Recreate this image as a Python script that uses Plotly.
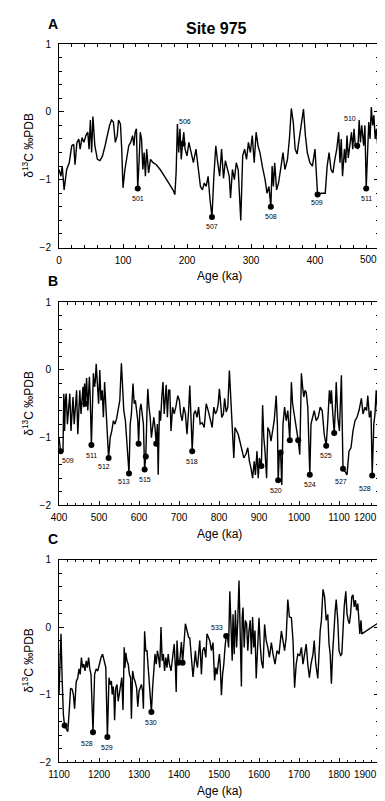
import plotly.graph_objects as go

# ---------------- data ----------------
age_A = [0, 3, 5, 8, 12, 16, 20, 23, 25, 28, 31, 33, 36, 39, 42, 45, 47, 49, 51, 53, 56, 60, 64, 68, 72, 76, 79, 82, 85, 88,
         91, 93, 96, 98, 100, 103, 106, 109, 112, 115, 117, 119, 121, 123, 125, 127, 129, 131, 133, 135, 137, 140, 143, 147,
         152, 158, 165, 172, 178, 181, 183, 185, 187, 189, 191, 193, 195, 197, 200, 203, 206, 210, 214, 218, 221, 224, 227,
         230, 233, 236, 239, 242, 245, 248, 251, 254, 257, 260, 263, 266, 268, 271, 274, 277, 280, 284, 287, 290, 293, 296,
         299, 302, 305, 308, 311, 314, 318, 322, 325, 328, 331, 333, 335, 337, 340, 343, 347, 350, 353, 357, 360, 363, 366,
         369, 372, 375, 378, 382, 385, 388, 392, 396, 400, 404, 410, 416, 419, 422, 425, 428, 431, 434, 437, 439, 441, 443,
         446, 448, 450, 452, 455, 457, 459, 461, 463, 466, 467, 469, 471, 473, 476, 478, 480, 482, 484, 486, 488, 490, 492,
         494, 496, 498, 500]
d13C_A = [-0.85, -0.95, -0.8, -1.15, -0.85, -0.75, -0.5, -0.48, -0.78, -0.45, -0.4, -0.55, -0.38, -0.45, -0.35, -0.3, -0.55,
          -0.12, -0.6, -0.07, -0.5, -0.7, -0.72, -0.65, -0.5, -0.3, -0.2, -0.12, -0.15, -0.45, -0.35, -0.12, -0.18, -0.55,
          -1.12, -0.85, -0.65, -0.5, -0.45, -0.35, -0.5, -0.3, -0.25, -1.13, -0.75, -0.3, -0.4, -0.85, -0.6, -0.95, -0.55,
          -0.9, -0.7, -0.75, -0.78, -0.85, -0.95, -1.05, -1.15, -1.22, -0.9, -0.18, -0.6, -0.25, -0.7, -0.47, -0.3, -0.55,
          -0.65, -0.45, -0.6, -0.75, -0.55, -0.9, -1.1, -1.15, -1.05, -1.1, -0.95, -1.3, -1.55, -0.95, -0.5, -0.75, -0.95,
          -0.55, -0.98, -0.72, -0.85, -0.95, -1.27, -0.85, -1.0, -0.75, -0.85, -1.6, -0.65, -0.55, -0.7, -0.45, -0.6, -0.35,
          -0.75, -0.3, -0.5, -0.6, -0.82, -1.0, -1.2, -1.1, -1.4, -0.8, -1.1, -0.75, -1.15, -1.05, -0.8, -0.6, -0.85, -0.7,
          -0.4, 0.05, -0.15, -0.55, -0.62, -0.4, -0.2, 0.04, -0.35, -0.6, -0.75, -0.8, -0.55, -1.22, -1.2, -1.2, -0.8, -0.6,
          -0.85, -0.9, -0.7, -0.55, -0.3, -0.75, -0.4, -0.95, -0.55, -0.75, -0.35, -0.68, -0.45, -0.3, -0.55, -0.25, -0.5,
          -0.5, -0.55, -0.12, -0.45, -0.2, -0.5, -0.2, -1.13, -0.45, -0.15, -0.4, 0.07, -0.2, -0.05, -0.4, -0.25, -0.5, -0.3]

age_B = [400, 404, 408, 410, 412, 414, 416, 418, 421, 424, 427, 430, 433, 435, 438, 441, 444, 447, 450, 452, 455, 458, 460,
         462, 464, 466, 469, 472, 474, 476, 478, 481, 484, 486, 489, 491, 493, 496, 499, 502, 505, 508, 511, 514, 517, 520,
         524, 528, 532, 536, 540, 544, 548, 552, 556, 559, 562, 566, 570, 575, 578, 581, 585, 588, 591, 594, 597, 599, 602,
         605, 608, 611, 614, 617, 620, 622, 625, 628, 631, 634, 637, 640, 643, 646, 648, 651, 654, 657, 660, 663, 666, 668,
         671, 674, 677, 680, 684, 688, 692, 697, 701, 704, 708, 712, 716, 720, 724, 727, 730, 733, 737, 741, 745, 749, 753,
         758, 763, 768, 773, 778, 783, 787, 791, 795, 798, 801, 804, 807, 811, 814, 818, 822, 826, 830, 834, 837, 840, 844,
         848, 852, 857, 862, 867, 872, 876, 880, 884, 888, 891, 895, 898, 901, 906, 909, 912, 915, 919, 922, 926, 930, 934,
         938, 943, 946, 948, 951, 954, 957, 960, 964, 968, 972, 977, 981, 984, 988, 992, 998, 1002, 1006, 1009, 1012, 1015,
         1018, 1022, 1027, 1030, 1034, 1038, 1043, 1048, 1053, 1058, 1063, 1068, 1072, 1076, 1079, 1081, 1084, 1088, 1091,
         1093, 1097, 1101, 1106, 1110, 1115, 1120, 1125, 1130, 1135, 1140, 1145, 1150, 1156, 1160, 1165, 1169, 1172, 1176,
         1180, 1183, 1187, 1190, 1193, 1197, 1200]
d13C_B = [-1.0, -1.2, -1.2, -1.2, -0.35, -0.9, -0.45, -0.35, -0.8, -0.5, -0.35, -0.9, -0.5, -0.4, -0.8, -0.6, -0.3, -0.95,
          -0.5, -0.3, -0.65, -0.45, -0.25, -0.55, -0.2, -0.5, -0.12, -0.6, -0.15, -0.1, -0.4, -1.11, -0.45, -0.05, -0.25,
          -0.15, 0.09, -0.3, -0.5, 0.0, -0.45, -0.3, -0.7, -0.18, -0.55, -0.75, -1.3, -1.0, -0.9, -0.75, -0.8, -0.72, -0.6,
          -0.45, 0.1, -0.3, -0.6, -0.75, -1.1, -1.53, -0.8, -0.65, -0.2, -0.5, -0.45, -0.6, -0.75, -1.09, -0.6, -0.5, -0.7,
          -0.8, -1.47, -1.28, -0.6, -0.28, -0.55, -0.7, -1.0, -0.8, -0.7, -0.85, -1.09, -0.8, -1.55, -0.6, -0.75, -0.4,
          -0.18, -0.65, -0.28, -0.22, -0.7, -0.3, -0.3, -0.9, -0.55, -0.65, -0.55, -0.38, -0.45, -0.65, -0.75, -0.55, -0.65,
          -0.95, -0.6, -0.23, -0.7, -1.2, -0.65, -0.6, -0.7, -0.55, -0.8, -0.78, -0.85, -0.5, -0.6, -0.75, -0.85, -0.55,
          -0.65, -0.6, -0.5, -0.28, -0.5, -0.7, -0.65, -0.42, -0.62, -0.55, -0.01, -0.55, -0.9, -1.3, -0.85, -0.9, -0.95,
          -1.05, -1.2, -1.3, -1.25, -1.15, -1.35, -1.45, -1.6, -1.35, -1.55, -1.2, -1.6, -1.3, -1.42, -0.52, -1.0, -1.2,
          -1.6, -0.85, -0.9, -1.05, -0.9, -0.75, -0.38, -0.8, -1.63, -1.2, -1.22, -1.7, -0.8, -0.55, -0.75, -0.6, -1.04,
          -0.18, -0.5, -0.65, -0.85, -1.04, -1.25, -0.05, -0.25, -0.4, -0.3, -0.33, -0.55, -1.55, -0.8, -0.7, -0.6, -0.75,
          -0.7, -0.55, -0.6, -0.95, -1.12, -0.75, -0.3, -0.5, -0.3, -0.6, -0.93, -0.55, -0.18, -0.7, -0.9, -0.08, -1.46,
          -1.5, -1.55, -1.2, -1.15, -0.9, -0.75, -0.7, -0.6, -0.42, -0.65, -0.55, -0.6, -0.38, -0.7, -0.6, -1.56, -0.8,
          -0.65, -0.3, -0.7, -0.65]

age_C = [1100, 1102, 1105, 1108, 1111, 1114, 1118, 1122, 1126, 1129, 1133, 1136, 1139, 1143, 1147, 1150, 1153, 1156, 1159,
         1162, 1165, 1168, 1171, 1174, 1177, 1180, 1185, 1189, 1193, 1197, 1201, 1205, 1209, 1213, 1217, 1221, 1225, 1228,
         1231, 1233, 1235, 1237, 1239, 1242, 1245, 1248, 1251, 1254, 1257, 1260, 1263, 1265, 1267, 1270, 1273, 1276, 1279,
         1281, 1284, 1287, 1290, 1294, 1297, 1300, 1303, 1306, 1309, 1311, 1314, 1317, 1320, 1323, 1326, 1329, 1331, 1334,
         1337, 1340, 1343, 1346, 1349, 1352, 1355, 1358, 1361, 1364, 1367, 1370, 1373, 1376, 1380, 1384, 1388, 1391, 1393,
         1395, 1398, 1402, 1406, 1409, 1413, 1416, 1420, 1424, 1427, 1431, 1435, 1438, 1441, 1443, 1446, 1449, 1452, 1456,
         1459, 1463, 1467, 1470, 1473, 1477, 1481, 1485, 1489, 1492, 1495, 1498, 1501, 1503, 1506, 1509, 1512, 1515, 1518,
         1521, 1524, 1527, 1530, 1533, 1535, 1538, 1541, 1544, 1547, 1550, 1553, 1556, 1558, 1560, 1563, 1566, 1569, 1572,
         1575, 1578, 1581, 1584, 1587, 1590, 1593, 1596, 1600, 1603, 1606, 1610, 1614, 1618, 1622, 1626, 1631, 1635, 1640,
         1645, 1650, 1656, 1660, 1664, 1668, 1672, 1676, 1681, 1685, 1689, 1693, 1697, 1702, 1706, 1710, 1714, 1718, 1722,
         1726, 1730, 1735, 1738, 1742, 1747, 1750, 1753, 1756, 1760, 1764, 1768, 1772, 1775, 1778, 1781, 1784, 1787, 1790,
         1793, 1797, 1800, 1804, 1807, 1810, 1813, 1817, 1820, 1823, 1826, 1829, 1832, 1835, 1838, 1841, 1844, 1847, 1850,
         1852, 1855, 1857, 1900]
d13C_C = [-1.0, -0.5, -0.1, -0.8, -1.3, -1.46, -1.5, -1.55, -1.2, -0.91, -0.92, -1.0, -1.21, -0.81, -0.75, -0.62, -0.7,
          -0.45, -0.6, -0.55, -0.65, -0.5, -0.6, -0.45, -0.62, -0.7, -1.56, -0.7, -0.62, -0.65, -0.55, -0.45, -0.4, -0.5,
          -0.6, -1.63, -0.75, -0.85, -0.8, -1.0, -0.88, -0.95, -1.38, -0.9, -0.85, -1.1, -1.0, -0.9, -0.75, -1.23, -0.3,
          -0.6, -0.38, -0.5, -0.55, -0.7, -0.75, -1.36, -0.65, -0.75, -0.8, -0.9, -1.18, -0.95, -0.9, -0.85, -0.95, -1.21,
          -0.06, -0.35, -0.35, -0.6, -0.8, -0.95, -1.26, -0.9, -0.6, -0.4, -0.55, -0.35, -0.45, -0.6, 0.0, -0.5, -0.4,
          -0.65, -0.45, -0.6, -0.4, -0.55, -0.65, -0.45, -0.25, -0.6, -0.96, -0.2, -0.53, -0.5, -0.22, -0.53, -0.1, 0.05,
          -0.05, -0.15, -0.16, -0.4, -0.74, -0.55, -0.35, -0.5, -0.6, -0.4, -0.2, -0.7, -0.35, -0.3, -0.45, -0.1, -0.15,
          -0.2, -0.35, -0.23, -0.79, -0.6, -0.7, -0.55, -0.4, -0.55, -1.01, -0.7, -0.55, -0.3, -0.13, -0.12, -0.3, 0.53,
          0.05, -0.5, 0.19, -0.4, 0.25, -0.3, 0.1, 0.69, -0.1, -0.88, 0.15, 0.29, -0.3, 0.1, 0.05, -0.35, -0.05, 0.1, -0.4,
          0.15, -0.3, -0.05, -0.76, -0.3, 0.14, -0.25, -0.5, -0.61, 0.04, -0.2, -0.3, -0.45, -0.23, -0.4, -0.55, -0.35,
          -0.4, -0.06, -0.2, -0.35, -0.15, 0.41, 0.15, 0.14, -0.2, -0.9, -0.55, -0.4, -0.42, -0.3, -0.55, -0.4, -0.25,
          -0.55, -0.75, -0.55, -0.4, -0.2, -0.55, -0.76, -0.3, -0.05, 0.1, 0.56, 0.45, 0.1, 0.19, -0.25, -0.4, -0.84, -0.4,
          0.0, 0.2, 0.41, 0.1, -0.35, -0.42, -0.4, 0.0, 0.3, 0.53, 0.2, 0.1, 0.05, 0.2, 0.45, 0.48, 0.3, 0.4, 0.25, 0.35,
          0.1, -0.1, 0.1, -0.1, 0.07]

# marked events (age, value, label)
mark_age_A = [123, 193, 239, 331, 404, 466, 480]
mark_val_A = [-1.13, -0.47, -1.55, -1.4, -1.22, -0.5, -1.13]
mark_lbl_A = ["501", "506", "507", "508", "509", "510", "511"]

mark_age_B = [404, 466, 481, 524, 575, 599, 614, 617, 643, 733, 906, 948, 954, 977, 998, 1027, 1068, 1088, 1110, 1183]
mark_val_B = [-1.2, -0.5, -1.11, -1.3, -1.53, -1.09, -1.47, -1.28, -1.09, -1.2, -1.42, -1.63, -1.22, -1.04, -1.04,
              -1.55, -1.12, -0.93, -1.46, -1.56]
mark_lbl_B = ["509", "", "511", "512", "513", "", "515", "", "", "518", "", "520", "", "", "", "524", "525", "", "527",
              "528"]

mark_age_C = [1114, 1185, 1221, 1331, 1398, 1409, 1518]
mark_val_C = [-1.46, -1.56, -1.63, -1.26, -0.53, -0.53, -0.13]
mark_lbl_C = ["", "528", "529", "530", "", "", "533"]

x_ticks = [[0, 100, 200, 300, 400, 500],
           [400, 500, 600, 700, 800, 900, 1000, 1100, 1200],
           [1100, 1200, 1300, 1400, 1500, 1600, 1700, 1800, 1900]]
y_ticks = [-2, -1, 0, 1]
panel_letters = ["A", "B", "C"]

# ---------------- styles / layout helpers ----------------
W, H = 385, 801
ML, MR, MT, MB = 51, 14, 36, 47
PW, PH = W - ML - MR, H - MT - MB
panel_px = [(36, 239.5), (294.3, 497.3), (551.7, 754)]   # (top, bottom) page pixels
letter_y = [16, 273, 530.5]
FONT = "Liberation Sans, Arial, Helvetica, sans-serif"


def dom(top, bot):
    return [1 - (bot - MT) / PH, 1 - (top - MT) / PH]


# label offsets in px (dx, dy) - default below the marker
label_off = {
    ("A", "506"): (2, 22), ("A", "510"): (-7, 27), ("A", "509"): (-1, -8),
    ("B", "509"): (7, -9), ("B", "512"): (-5, -9), ("B", "513"): (-5, -8), ("B", "520"): (-2, -10),
    ("B", "527"): (-2, -13), ("B", "528"): (-7, -13),
    ("C", "528"): (-6, -11), ("C", "533"): (-9, 8),
}

fig = go.Figure()
annotations = []
layout_axes = {}

series = [(age_A, d13C_A, mark_age_A, mark_val_A, mark_lbl_A),
          (age_B, d13C_B, mark_age_B, mark_val_B, mark_lbl_B),
          (age_C, d13C_C, mark_age_C, mark_val_C, mark_lbl_C)]

for i, (ages, vals, ma, mv, ml) in enumerate(series):
    n = "" if i == 0 else str(i + 1)
    xa, ya = "x" + n, "y" + n
    fig.add_trace(go.Scatter(x=ages, y=vals, mode="lines", line=dict(color="black", width=1.4),
                             xaxis=xa, yaxis=ya, showlegend=False))
    fig.add_trace(go.Scatter(x=ma, y=mv, mode="markers", marker=dict(color="black", size=6),
                             xaxis=xa, yaxis=ya, showlegend=False))
    top, bot = panel_px[i]
    d = dom(top, bot)
    common = dict(showline=True, linecolor="black", linewidth=1, mirror="ticks", ticks="inside",
                  tickcolor="black", tickwidth=1, showgrid=False, zeroline=False,
                  tickfont=dict(family=FONT, size=10, color="black"))
    tv = x_ticks[i]
    tt = [str(t) for t in tv[:-1]] + [""]   # last label drawn right-aligned below
    layout_axes["xaxis" + n] = dict(common, domain=[0, 1], anchor=ya, range=[tv[0], tv[-1]],
                                    tickmode="array", tickvals=tv, ticktext=tt, ticklen=4,
                                    ticklabelstandoff=3,
                                    minor=dict(dtick=20, ticks="inside", ticklen=2.5, tickcolor="black"))
    layout_axes["yaxis" + n] = dict(common, domain=d, anchor=xa, range=[y_ticks[0], y_ticks[-1]],
                                    tickmode="array", tickvals=y_ticks, ticklen=5,
                                    ticklabelstandoff=5,
                                    minor=dict(dtick=0.2, ticks="inside", ticklen=3, tickcolor="black"))
    # last x tick label, right-aligned at the axis end
    annotations.append(dict(text=str(tv[-1]), xref="paper", yref="paper", x=1, y=d[0], yshift=-12.5,
                            xanchor="right", yanchor="middle", showarrow=False,
                            font=dict(family=FONT, size=10, color="black")))
    # axis titles
    annotations.append(dict(text="Age (ka)", xref="paper", yref="paper", x=0.5, y=d[0], yshift=-28.5,
                            xanchor="center", yanchor="middle", showarrow=False,
                            font=dict(family=FONT, size=12, color="black")))
    annotations.append(dict(text="δ<sup>13</sup>C ‰PDB", xref="paper", yref="paper", x=(20 - ML) / PW,
                            y=(d[0] + d[1]) / 2, xanchor="center", yanchor="middle", textangle=-90,
                            showarrow=False, font=dict(family=FONT, size=12, color="black")))
    annotations.append(dict(text="<b>%s</b>" % panel_letters[i], xref="paper", yref="paper",
                            x=(45 - ML) / PW, y=1 - (letter_y[i] - MT) / PH,
                            xanchor="center", yanchor="middle", showarrow=False,
                            font=dict(family=FONT, size=14, color="black")))
    # marker labels
    for a, v, lb in zip(ma, mv, ml):
        if not lb:
            continue
        dx, dy = label_off.get((panel_letters[i], lb), (0, -10))
        annotations.append(dict(text=lb, x=a, y=v, xref=xa, yref=ya, xshift=dx, yshift=dy,
                                xanchor="center", yanchor="middle", showarrow=False,
                                font=dict(family=FONT, size=7, color="black")))

annotations.append(dict(text="<b>Site 975</b>", xref="paper", yref="paper", x=(208 - ML) / PW,
                        y=1 - (20.5 - MT) / PH, xanchor="center", yanchor="middle", showarrow=False,
                        font=dict(family=FONT, size=16, color="black")))

fig.update_layout(width=W, height=H, margin=dict(l=ML, r=MR, t=MT, b=MB), paper_bgcolor="white",
                  plot_bgcolor="white", annotations=annotations, font=dict(family=FONT, color="black"),
                  **layout_axes)
fig.write_html("out.html")
